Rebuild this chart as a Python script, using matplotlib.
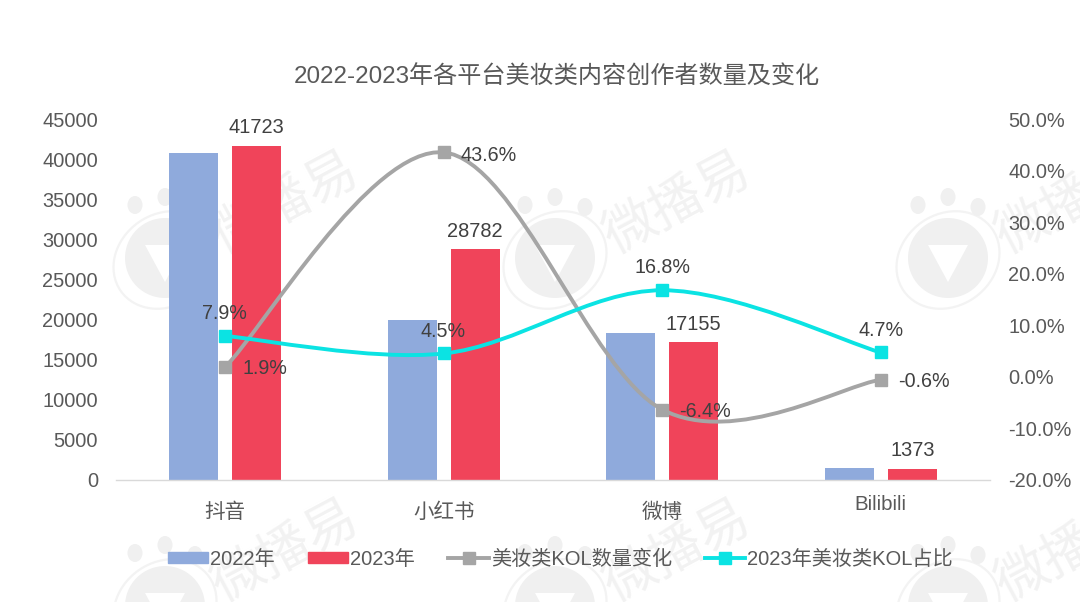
import matplotlib
matplotlib.use('Agg')
import matplotlib.pyplot as plt
import numpy as np
from matplotlib.lines import Line2D
from matplotlib.patches import Circle, Ellipse, PathPatch, Polygon, Rectangle
from matplotlib.path import Path

plt.rcParams['font.family'] = ['Liberation Sans', 'Noto Sans CJK SC']

title = '2022-2023年各平台美妆类内容创作者数量及变化'
platforms = ['抖音', '小红书', '微博', 'Bilibili']
count_2022 = [40800, 19950, 18300, 1440]
count_2023 = [41723, 28782, 17155, 1373]
kol_change = [1.9, 43.6, -6.4, -0.6]
kol_share = [7.9, 4.5, 16.8, 4.7]
left_ticks = [0, 5000, 10000, 15000, 20000, 25000, 30000, 35000, 40000, 45000]
right_ticks = [-20, -10, 0, 10, 20, 30, 40, 50]

blue = '#8faadc'
red = '#f0445a'
gray = '#a5a5a5'
cyan = '#0be3e3'
text_col = '#595959'
label_col = '#404040'
W, H = 1080, 602


def smooth_path(xs, ys):
    # same kind of smoothing as an excel line chart
    xs = [xs[0]] + list(xs) + [xs[-1]]
    ys = [ys[0]] + list(ys) + [ys[-1]]
    verts = [(xs[1], ys[1])]
    codes = [Path.MOVETO]
    for i in range(1, len(xs) - 2):
        verts.append((xs[i] + (xs[i + 1] - xs[i - 1]) / 6, ys[i] + (ys[i + 1] - ys[i - 1]) / 6))
        verts.append((xs[i + 1] - (xs[i + 2] - xs[i]) / 6, ys[i + 1] - (ys[i + 2] - ys[i]) / 6))
        verts.append((xs[i + 1], ys[i + 1]))
        codes += [Path.CURVE4] * 3
    return Path(verts, codes)


fig = plt.figure(figsize=(W / 100, H / 100), dpi=100, facecolor='white')

# watermark, drawn in pixel coordinates behind the chart
bg = fig.add_axes([0, 0, 1, 1], zorder=0)
bg.set_xlim(0, W)
bg.set_ylim(H, 0)
bg.axis('off')
wm = '#f0f0f0'
for cx, cy in [(165, 258), (555, 258), (948, 258), (165, 606), (555, 606), (948, 606)]:
    bg.add_patch(Circle((cx, cy), 40, color=wm, lw=0))
    bg.add_patch(Ellipse((cx, cy + 2), 108, 92, angle=-35, fill=False, ec='#f3f3f3', lw=1.6))
    for dx, dy in [(-30, -53), (0, -61), (30, -51)]:
        bg.add_patch(Ellipse((cx + dx, cy + dy), 15, 18, color=wm, lw=0))
    bg.add_patch(Polygon([(cx - 20, cy - 13), (cx + 20, cy - 13), (cx, cy + 24)], color='white', lw=0))
for tx, ty in [(285, 205), (677, 205), (1069, 205), (285, 553), (677, 553), (1069, 553)]:
    bg.text(tx, ty, '微播易', fontsize=38, color='#f2f2f2', rotation=28, ha='center', va='center',
            rotation_mode='anchor', clip_on=True)

ax = fig.add_axes([116 / W, 1 - 479.5 / H, 874 / W, 360 / H], zorder=1)
ax.patch.set_alpha(0)
x = np.arange(len(platforms))
w = 49 / 218.5
off = 31.5 / 218.5
ax.bar(x - off, count_2022, w, color=blue, label='2022年')
ax.bar(x + off, count_2023, w, color=red, label='2023年')
ax.set_xlim(-0.5, 3.5)
ax.set_ylim(0, 45000)
ax.set_yticks(left_ticks)
ax.set_xticks(x)
ax.set_xticklabels(platforms)
ax.tick_params(axis='y', length=0, pad=13, labelsize=14.4, labelcolor=text_col)
ax.tick_params(axis='x', length=0, pad=16.5, labelsize=14.8, labelcolor=text_col)
ax.xaxis.get_major_ticks()[3].set_pad(11.5)
for s in ['top', 'left', 'right']:
    ax.spines[s].set_visible(False)
ax.spines['bottom'].set_color('#d9d9d9')
ax.spines['bottom'].set_linewidth(1)

for i, v in enumerate(count_2023):
    ax.annotate(str(v), (x[i] + off, v), xytext=(0, 6), textcoords='offset points', ha='center', va='bottom',
                fontsize=14.4, color=label_col)

ax2 = ax.twinx()
ax2.patch.set_alpha(0)
ax2.set_ylim(-20, 50)
ax2.set_yticks(right_ticks)
ax2.set_yticklabels(['%.1f%%' % t for t in right_ticks])
ax2.tick_params(axis='y', length=0, pad=13, labelsize=14.4, labelcolor=text_col)
for s in ['top', 'left', 'right', 'bottom']:
    ax2.spines[s].set_visible(False)

ax2.add_patch(PathPatch(smooth_path(x, kol_change), fill=False, ec=gray, lw=2.8, capstyle='round'))
ax2.plot(x, kol_change, ls='none', marker='s', ms=8, color=gray)
ax2.add_patch(PathPatch(smooth_path(x, kol_share), fill=False, ec=cyan, lw=2.8, capstyle='round'))
ax2.plot(x, kol_share, ls='none', marker='s', ms=8, color=cyan)

# label offsets in px from each marker
change_off = [(40, -2), (45, -3), (43, -2), (43, -2)]
share_off = [(-1, 23), (-1, 22), (0, 23), (0, 22)]
for i in range(4):
    ax2.annotate('%.1f%%' % kol_change[i], (x[i], kol_change[i]),
                 xytext=(change_off[i][0] * 0.72, change_off[i][1] * 0.72), textcoords='offset points',
                 ha='center', va='center', fontsize=14.2, color=label_col)
    ax2.annotate('%.1f%%' % kol_share[i], (x[i], kol_share[i]),
                 xytext=(share_off[i][0] * 0.72, share_off[i][1] * 0.72), textcoords='offset points',
                 ha='center', va='center', fontsize=14.2, color=label_col)

fig.text(557 / W, 1 - 77 / H, title, fontsize=17.4, color=text_col, ha='center', va='center')

handles = [
    Rectangle((0, 0), 1, 1, color=blue),
    Rectangle((0, 0), 1, 1, color=red),
    Line2D([], [], color=gray, lw=2.8, marker='s', ms=8),
    Line2D([], [], color=cyan, lw=2.8, marker='s', ms=8),
]
labels = ['2022年', '2023年', '美妆类KOL数量变化', '2023年美妆类KOL占比']
fig.legend(handles, labels, loc='center', bbox_to_anchor=(560.5 / W, 1 - 559 / H), ncol=4, frameon=False,
           fontsize=14.5, labelcolor=text_col, handlelength=2.0, handleheight=0.5, handletextpad=0.1,
           columnspacing=1.65, borderpad=0)

fig.savefig('out.png', dpi=100)
